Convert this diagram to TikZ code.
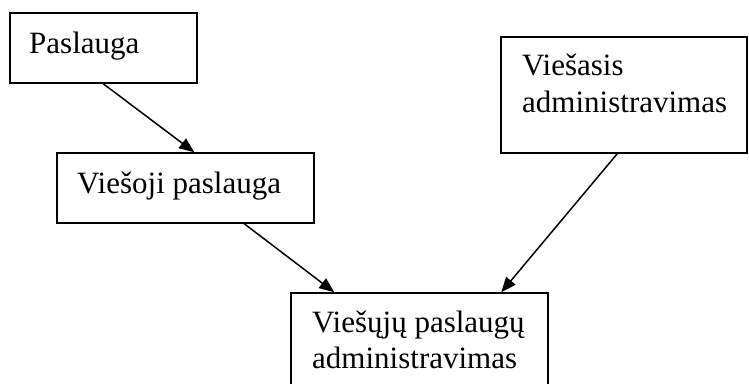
\documentclass[tikz,border=0pt]{standalone}
\usepackage{fontspec}
\setmainfont{Liberation Serif}
\usetikzlibrary{arrows.meta}
\begin{document}
\begin{tikzpicture}[x=1pt,y=1pt,
  box/.style={draw, line width=1.5pt, rectangle, inner sep=0pt, fill=white},
  lbl/.style={anchor=base west, inner sep=0pt, font=\fontsize{31}{36}\selectfont},
  conn/.style={line width=1.5pt, -{Triangle[length=15pt,width=12pt]}}]
\useasboundingbox (0,0) rectangle (749,-383);
\node[box, minimum width=187pt, minimum height=70pt] (p) at (103.5,-48) {};
\node[box, minimum width=257pt, minimum height=70pt] (vp) at (185.5,-188) {};
\node[box, minimum width=246pt, minimum height=116pt] (va) at (624,-95) {};
\node[box, minimum width=257pt, minimum height=110pt] (vpa) at (419.5,-348) {};
\node[lbl] (tp) at (29,-53) {Paslauga};
\node[lbl] (tvp) at (77,-193) {Viešoji paslauga};
\node[lbl] (tva1) at (522,-75) {Viešasis};
\node[lbl] (tva2) at (522,-112) {administravimas};
\node[lbl] (tvpa1) at (312,-332) {Viešųjų paslaugų};
\node[lbl] (tvpa2) at (312,-368) {administravimas};
\draw[conn] ([xshift=94pt]p.south west) -- ([xshift=138pt]vp.north west);
\draw[conn] ([xshift=188pt]vp.south west) -- ([xshift=44pt]vpa.north west);
\draw[conn] ([xshift=117pt]va.south west) -- ([xshift=211pt]vpa.north west);
\end{tikzpicture}
\end{document}
